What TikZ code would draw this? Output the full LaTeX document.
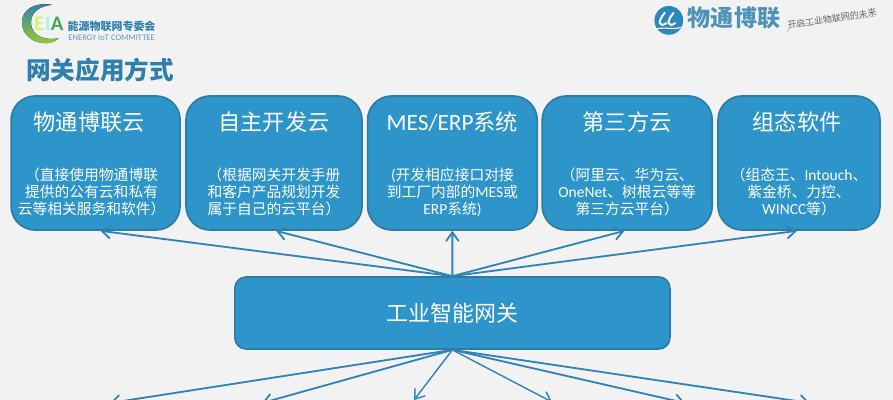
\documentclass[tikz,border=0pt]{standalone}
\usepackage{fontspec}
\setmainfont{Noto Sans CJK SC}
\newfontfamily\latinfont[Scale=1.05]{Carlito}
\usepackage{tikz}
\usetikzlibrary{arrows.meta}
\definecolor{pagegray}{HTML}{F2F2F2}
\definecolor{cardblue}{HTML}{2E95CB}
\definecolor{cardedge}{HTML}{2F7CA3}
\definecolor{linkblue}{HTML}{2E83B8}
\definecolor{titleblue}{HTML}{2F7FAE}
\definecolor{logogreen}{HTML}{46A552}

\begin{document}
\begin{tikzpicture}
    \newcommand{\en}[1]{{\latinfont #1}}
    \tikzstyle{dedge} = [line width=1.3pt,-{Straight Barb[length=2.2mm,width=3.2mm]},draw=linkblue]
    \tikzstyle{thinedge} = [dedge,line width=1pt]
    \tikzstyle{card}=[
      rectangle,
      rounded corners=0.6cm,
      draw=cardedge,
      fill=cardblue,
      line width=1.2pt,
      anchor=center,
      minimum height=3.35cm,
    ]
    \tikzstyle{gate}=[
      card,
      rounded corners=0.28cm,
      minimum width=10.875cm,
      minimum height=1.8cm,
      text=white,
      font=\fontsize{15.6}{18}\selectfont,
    ]
    \tikzstyle{cardtitle}=[
      text=white,
      anchor=center,
      font=\fontsize{15.8}{18}\selectfont,
    ]
    \tikzstyle{cardtext}=[
      text=white,
      anchor=center,
      align=center,
      font=\fontsize{10.5}{12.1}\selectfont,
    ]

    \useasboundingbox (0,0) rectangle (22.325,10);
    \clip (0,0) rectangle (22.325,10);
    \fill[pagegray] (0,0) rectangle (22.325,10);

    \coordinate (cardAnchor) at (0,5.925);
    \coordinate (gateAnchor) at (11.31,2.175);
    \coordinate (logoAnchor) at (0,10);

    % left logo and page title
    {
      \fill[top color=titleblue, middle color=titleblue!80!cyan, bottom color=logogreen!60!yellow, shading angle=0]
        (1.3,9.88) .. controls (0.85,9.95) and (0.55,9.75) .. (0.55,9.45)
        .. controls (0.55,9.1) and (0.85,8.92) .. (1.15,8.92)
        .. controls (1.3,8.92) and (1.4,8.98) .. (1.47,9.05)
        .. controls (1.2,8.98) and (0.775,9.05) .. (0.775,9.45)
        .. controls (0.775,9.7) and (1,9.85) .. (1.3,9.88);
      \node[text=logogreen!30!yellow!60!white, font=\fontsize{14}{14}\selectfont\latinfont\bfseries] (logoE) at ([xshift=0.98cm, yshift=-0.6cm] logoAnchor) {E};
      \node[text=logogreen!30!cyan!40!white, font=\fontsize{14}{14}\selectfont\latinfont\bfseries] (logoI) at ([xshift=1.2cm, yshift=-0.6cm] logoAnchor) {I};
      \node[text=logogreen, font=\fontsize{14}{14}\selectfont\latinfont\bfseries] (logoA) at ([xshift=1.43cm, yshift=-0.6cm] logoAnchor) {A};
      \node[text=titleblue, font=\fontsize{7.8}{9}\selectfont\bfseries] (logoName) at ([xshift=2.79cm, yshift=-0.65cm] logoAnchor) {能源物联网专委会};
      \node[text=titleblue!80, font=\fontsize{5.8}{6}\selectfont\latinfont] (logoEnglish) at ([xshift=2.79cm, yshift=-0.95cm] logoAnchor) {ENERGY IoT COMMITTEE};
      \node[text=titleblue, anchor=west, inner sep=0pt, font=\fontsize{17.5}{20}\selectfont\bfseries] (pageTitle) at ([xshift=0.65cm, yshift=-1.75cm] logoAnchor) {网关应用方式};
    }

    % right logo
    {
      \fill[linkblue!70!cardblue] (16.72,9.49) circle (0.36);
      \draw[white, line width=1.4pt, line cap=round] (16.62,9.68) .. controls (16.42,9.45) and (16.48,9.3) .. (16.66,9.42);
      \draw[white, line width=1.4pt, line cap=round] (16.84,9.68) .. controls (16.64,9.45) and (16.7,9.3) .. (16.88,9.42);
      \draw[white, line width=0.8pt] (16.4,9.27) .. controls (16.6,9.34) and (16.85,9.24) .. (17.03,9.32);
      \node[text=titleblue!85, font=\fontsize{16.4}{18}\selectfont\bfseries] (brandName) at ([xshift=18.35cm, yshift=-0.45cm] logoAnchor) {物通博联};
      \node[text=black!60, rotate=8.5, font=\fontsize{6.4}{7}\selectfont] (brandSlogan) at ([xshift=20.8cm, yshift=-0.47cm] logoAnchor) {开启工业物联网的未来};
      \draw[black!35, line width=0.3pt] (19.68,9.18) .. controls (19.7,9.5) and (20.8,9.4) .. (21.88,9.6);
    }

    % upper row
    {
      \node[card, minimum width=4.225cm] (card1) at ([xshift=2.39cm, yshift=0cm] cardAnchor) {};
      \node[card, minimum width=4.4cm] (card2) at ([xshift=6.85cm, yshift=0cm] cardAnchor) {};
      \node[card, minimum width=4.24cm] (card3) at ([xshift=11.31cm, yshift=0cm] cardAnchor) {};
      \node[card, minimum width=4.25cm] (card4) at ([xshift=15.68cm, yshift=0cm] cardAnchor) {};
      \node[card, minimum width=4.05cm] (card5) at ([xshift=19.975cm, yshift=0cm] cardAnchor) {};

      \node[cardtitle] (title1) at ([xshift=-0.16cm, yshift=-0.675cm] card1.north) {物通博联云};
      \node[cardtitle] (title2) at ([yshift=-0.675cm] card2.north) {自主开发云};
      \node[cardtitle] (title3) at ([yshift=-0.675cm] card3.north) {\en{MES/ERP}系统};
      \node[cardtitle] (title4) at ([yshift=-0.675cm] card4.north) {第三方云};
      \node[cardtitle] (title5) at ([xshift=-0.05cm, yshift=-0.675cm] card5.north) {组态软件};

      \node[cardtext] (text1) at ([xshift=-0.1cm, yshift=-0.725cm] card1.center) {（直接使用物通博联\\提供的公有云和私有\\云等相关服务和软件）};
      \node[cardtext] (text2) at ([yshift=-0.725cm] card2.center) {（根据网关开发手册\\和客户产品规划开发\\属于自己的云平台）};
      \node[cardtext] (text3) at ([yshift=-0.725cm] card3.center) {\en{(}开发相应接口对接\\到工厂内部的\en{MES}或\\\en{ERP}系统\en{)}};
      \node[cardtext] (text4) at ([yshift=-0.725cm] card4.center) {（阿里云、华为云、\\\en{OneNet}、树根云等等\\第三方云平台）};
      \node[cardtext] (text5) at ([yshift=-0.725cm] card5.center) {（组态王、\en{Intouch}、\\紫金桥、力控、\\\en{WINCC}等）};
    }

    % gateway
    {
      \node[gate] (gate1) at (gateAnchor) {工业智能网关};

      \coordinate (out1) at (2.75,-0.075);
      \coordinate (out2) at (6.55,-0.075);
      \coordinate (out3) at (10.35,0);
      \coordinate (out4) at (13.8,-0.05);
      \coordinate (out5) at (17.125,-0.075);
      \coordinate (out6) at (20.25,-0.075);

      \draw[dedge] (gate1.north)--([xshift=0.12cm] card1.south);
      \draw[dedge] (gate1.north)--([xshift=0.05cm] card2.south);
      \draw[dedge] (gate1.north)--(card3.south);
      \draw[dedge] (gate1.north)--([xshift=-0.07cm] card4.south);
      \draw[dedge] (gate1.north)--([xshift=-0.05cm] card5.south);

      \draw[dedge] (gate1.south)--(out1);
      \draw[dedge] (gate1.south)--(out2);
      \draw[thinedge] (gate1.south)--(out3);
      \draw[thinedge] (gate1.south)--(out4);
      \draw[dedge] (gate1.south)--(out5);
      \draw[dedge] (gate1.south)--(out6);
    }
\end{tikzpicture}
\end{document}
